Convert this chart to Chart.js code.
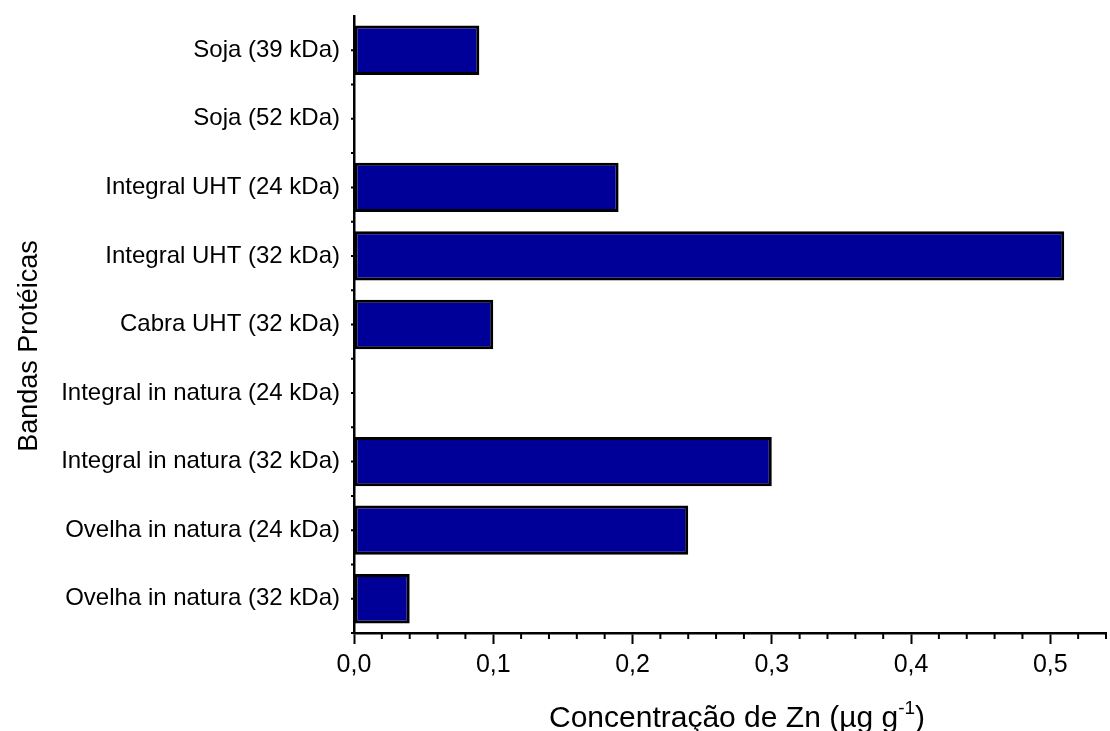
<!DOCTYPE html>
<html>
<head>
<meta charset="utf-8">
<script src="https://cdn.jsdelivr.net/npm/chart.js@4/dist/chart.umd.min.js"></script>
<style>
  html, body { margin: 0; padding: 0; background: #fff; }
  #wrap { width: 1110px; height: 731px; }
</style>
</head>
<body>
<div id="wrap"><canvas id="zincChart" width="1110" height="731"></canvas></div>
<script>
const bandas = [
    'Soja (39 kDa)',
    'Soja (52 kDa)',
    'Integral UHT (24 kDa)',
    'Integral UHT (32 kDa)',
    'Cabra UHT (32 kDa)',
    'Integral in natura (24 kDa)',
    'Integral in natura (32 kDa)',
    'Ovelha in natura (24 kDa)',
    'Ovelha in natura (32 kDa)'
]
const zinco = [0.09, 0, 0.19, 0.51, 0.10, 0, 0.30, 0.24, 0.04]
const xTicks = [0, 0.1, 0.2, 0.3, 0.4, 0.5]
const xMinorTicks = [0.02, 0.04, 0.06, 0.08, 0.12, 0.14, 0.16, 0.18, 0.22, 0.24, 0.26, 0.28,
    0.32, 0.34, 0.36, 0.38, 0.42, 0.44, 0.46, 0.48, 0.52, 0.54]

// minor ticks like the Origin plot (short x ticks, tiny y ticks)
const minorTicks = {
    id: 'minorTicks',
    afterDraw: (chart) => {
        const ctx = chart.ctx
        const x = chart.scales.x
        const y = chart.scales.y
        const half = (y.getPixelForValue(1) - y.getPixelForValue(0)) / 2
        ctx.save()
        ctx.strokeStyle = '#000'
        ctx.lineWidth = 2
        ctx.beginPath()
        xMinorTicks.forEach(v => {
            const px = x.getPixelForValue(v)
            ctx.moveTo(px, x.top)
            ctx.lineTo(px, x.top + 6)
        })
        for (let i = 0; i < bandas.length; i++) {
            const py = y.getPixelForValue(i)
            ctx.moveTo(y.right, py)
            ctx.lineTo(y.right - 3, py)
            ctx.moveTo(y.right, py + half)
            ctx.lineTo(y.right - 3, py + half)
        }
        ctx.stroke()
        ctx.restore()
    }
}

// axis titles placed like in the Origin export (x title with a raised exponent)
const axisTitles = {
    id: 'axisTitles',
    afterDraw: (chart) => {
        const ctx = chart.ctx
        const x = chart.scales.x
        const main = 'Concentração de Zn (µg g'
        const sup = '-1'
        const end = ')'
        ctx.save()
        ctx.fillStyle = '#000'
        ctx.textBaseline = 'alphabetic'
        ctx.font = '30px "Liberation Sans"'
        const wMain = ctx.measureText(main).width
        const wEnd = ctx.measureText(end).width
        ctx.font = '19px "Liberation Sans"'
        const wSup = ctx.measureText(sup).width
        const total = wMain + wSup + wEnd
        let px = (x.left + x.right) / 2 + 7 - total / 2
        const base = 727
        ctx.font = '30px "Liberation Sans"'
        ctx.fillText(main, px, base)
        px += wMain
        ctx.font = '19px "Liberation Sans"'
        ctx.fillText(sup, px, base - 13)
        px += wSup
        ctx.font = '30px "Liberation Sans"'
        ctx.fillText(end, px, base)

        ctx.translate(37, 346)
        ctx.rotate(-Math.PI / 2)
        ctx.textAlign = 'center'
        ctx.font = '27px "Liberation Sans"'
        ctx.fillText('Bandas Protéicas', 0, 0)
        ctx.restore()
    }
}

const ctx = document.getElementById('zincChart').getContext('2d')

new Chart(ctx, {
    type: 'bar',
    data: {
        labels: bandas,
        datasets: [{
            label: 'Zn',
            data: zinco,
            backgroundColor: '#000099',
            borderColor: '#000000',
            borderWidth: 3,
            borderSkipped: false,
            categoryPercentage: 1,
            barPercentage: 0.72
        }]
    },
    options: {
        indexAxis: 'y',
        responsive: false,
        animation: false,
        layout: { padding: { top: 16, right: 4, left: 0, bottom: 0 } },
        scales: {
            x: {
                min: 0,
                max: 0.54,
                afterFit: (scale) => { scale.height = 98 },
                afterBuildTicks: (scale) => { scale.ticks = xTicks.map(v => ({ value: v })) },
                border: { display: true, color: '#000', width: 2.5 },
                grid: { drawOnChartArea: false, tickLength: 11, tickWidth: 2, tickColor: '#000' },
                ticks: {
                    padding: 6,
                    color: '#000',
                    maxRotation: 0,
                    font: { family: 'Liberation Sans', size: 25 },
                    callback: (v) => Number(v).toFixed(1).replace('.', ',')
                }
            },
            y: {
                afterFit: (scale) => {
                    scale.width = 354
                    scale.paddingTop = 0
                    scale.paddingBottom = 0
                },
                border: { display: true, color: '#000', width: 2.5 },
                grid: { drawOnChartArea: false, display: true, tickLength: 0, color: '#000' },
                ticks: {
                    padding: 14,
                    color: '#000',
                    font: { family: 'Liberation Sans', size: 24 }
                }
            }
        },
        plugins: {
            legend: { display: false },
            tooltip: { enabled: false }
        }
    },
    plugins: [minorTicks, axisTitles]
})
</script>
</body>
</html>
